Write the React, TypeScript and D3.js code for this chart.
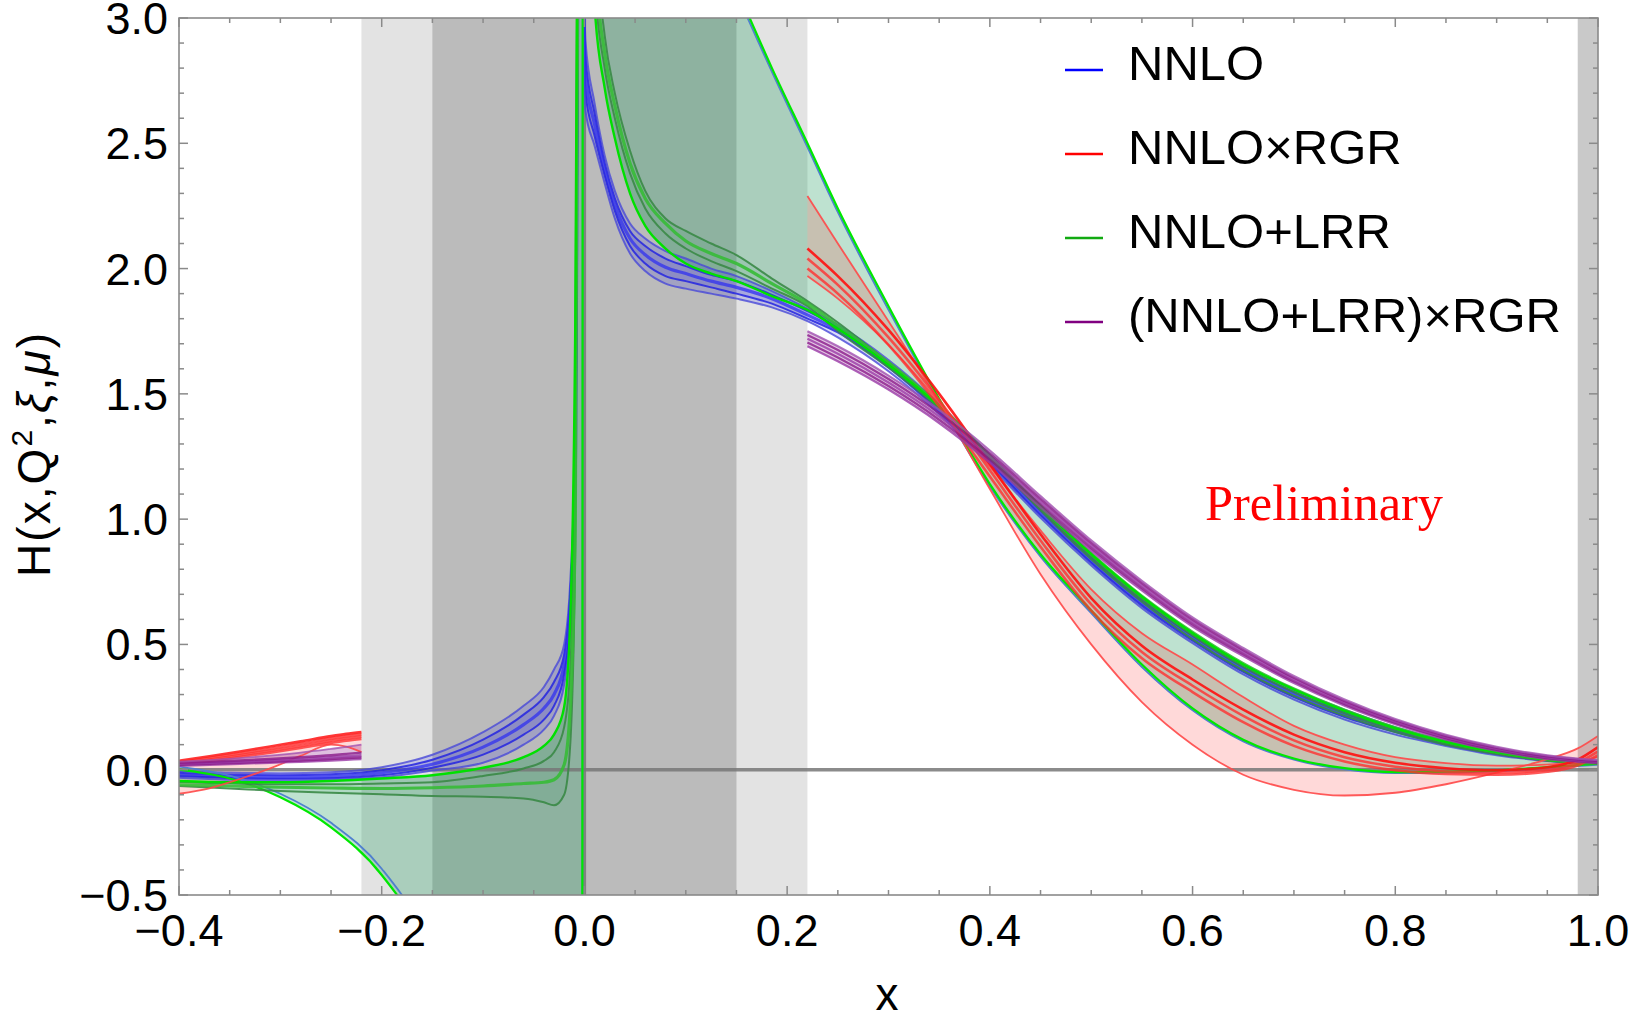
import React from 'react';
import * as d3 from 'd3';

// ---------- axes / ticks ----------
const xDomain = [-0.4, 1.0];
const yDomain = [-0.5, 3.0];
const xTickValues = [-0.4, -0.2, 0.0, 0.2, 0.4, 0.6, 0.8, 1.0];
const xTickLabels = ['−0.4', '−0.2', '0.0', '0.2', '0.4', '0.6', '0.8', '1.0'];
const yTickValues = [-0.5, 0.0, 0.5, 1.0, 1.5, 2.0, 2.5, 3.0];
const yTickLabels = ['−0.5', '0.0', '0.5', '1.0', '1.5', '2.0', '2.5', '3.0'];

// ---------- shaded x-regions ----------
const erblOuter = [-0.22, 0.22];
const erblInner = [-0.15, 0.15];
const endBand = [0.98, 1.0];

// ---------- x grids ----------
const xBG = [
  -0.4, -0.35, -0.3, -0.25, -0.2, -0.15, -0.1, -0.06, -0.04, -0.03, -0.02, -0.014, -0.009, -0.005,
  0.001, 0.01, 0.02, 0.03, 0.045, 0.06, 0.08, 0.1, 0.125, 0.15, 0.185, 0.22,
  0.25, 0.3, 0.35, 0.4, 0.45, 0.5, 0.55, 0.6, 0.65, 0.7, 0.75, 0.8, 0.85, 0.9, 0.95, 1.0,
];
const xLeft = [-0.4, -0.37, -0.34, -0.31, -0.28, -0.25, -0.235, -0.22];
const xRight = [0.22, 0.25, 0.3, 0.35, 0.4, 0.45, 0.5, 0.55, 0.6, 0.65, 0.7, 0.75, 0.8, 0.85, 0.9, 0.95, 0.98, 1.0];

// ---------- NNLO (blue) ----------
const nnloUp = [
  -0.005, -0.012, -0.014, -0.01, 0.01, 0.06, 0.15, 0.255, 0.33, 0.4, 0.5, 0.75, 1.3, 4.0,
  2.91, 2.66, 2.45, 2.31, 2.18, 2.12, 2.07, 2.04, 2.0, 1.97, 1.91, 1.84,
  1.775, 1.635, 1.46, 1.255, 1.045, 0.855, 0.685, 0.545, 0.42, 0.32, 0.24, 0.17, 0.115, 0.075, 0.045, 0.03,
];
const nnloM1 = [
  -0.012, -0.02, -0.022, -0.018, -0.002, 0.04, 0.12, 0.22, 0.29, 0.35, 0.46, 0.7, 1.25, 4.0,
  2.84, 2.62, 2.42, 2.28, 2.15, 2.09, 2.04, 2.01, 1.975, 1.95, 1.895, 1.83,
  1.765, 1.625, 1.45, 1.245, 1.035, 0.845, 0.675, 0.535, 0.41, 0.31, 0.23, 0.165, 0.11, 0.07, 0.042, 0.028,
];
const nnloMid = [
  -0.02, -0.027, -0.03, -0.027, -0.012, 0.022, 0.09, 0.18, 0.245, 0.3, 0.42, 0.65, 1.2, 4.0,
  2.77, 2.575, 2.395, 2.255, 2.12, 2.055, 2.005, 1.98, 1.95, 1.925, 1.88, 1.815,
  1.755, 1.615, 1.44, 1.235, 1.025, 0.835, 0.665, 0.525, 0.4, 0.3, 0.22, 0.16, 0.105, 0.066, 0.04, 0.026,
];
const nnloM3 = [
  -0.026, -0.033, -0.036, -0.034, -0.022, 0.008, 0.06, 0.14, 0.2, 0.255, 0.38, 0.6, 1.15, 4.0,
  2.7, 2.53, 2.37, 2.23, 2.09, 2.02, 1.97, 1.95, 1.925, 1.9, 1.86, 1.8,
  1.745, 1.605, 1.43, 1.225, 1.015, 0.825, 0.655, 0.515, 0.39, 0.29, 0.21, 0.15, 0.1, 0.062, 0.037, 0.024,
];
const nnloLo = [
  -0.032, -0.04, -0.042, -0.04, -0.03, -0.003, 0.028, 0.1, 0.16, 0.215, 0.34, 0.56, 1.1, 4.0,
  2.63, 2.49, 2.34, 2.2, 2.06, 1.99, 1.94, 1.92, 1.9, 1.88, 1.845, 1.79,
  1.725, 1.59, 1.42, 1.215, 1.005, 0.815, 0.645, 0.505, 0.38, 0.28, 0.2, 0.14, 0.095, 0.058, 0.035, 0.022,
];

// ---------- NNLO+LRR (green) ----------
const lrrOuter = [
  0.0, -0.035, -0.11, -0.23, -0.42, -0.75, -1.4, -2.5, -4, -5, -8, -10, -14, -20,
  20, 12, 8, 6.5, 5.3, 4.6, 4.0, 3.6, 3.35, 3.12, 2.8, 2.5,
  2.24, 1.85, 1.48, 1.14, 0.86, 0.635, 0.42, 0.245, 0.12, 0.045, 0.006, -0.01, -0.008, -0.003, 0.01, 0.024,
];
const lrrOuterTwin = [
  0.012, -0.024, -0.096, -0.212, -0.395, -0.72, -1.35, -2.4, -3.9, -5, -8, -10, -14, -20,
  20, 12, 8, 6.5, 5.3, 4.6, 4.0, 3.58, 3.33, 3.1, 2.785, 2.485,
  2.225, 1.835, 1.47, 1.13, 0.85, 0.625, 0.41, 0.237, 0.113, 0.04, 0.001, -0.014, -0.012, -0.007, 0.006, 0.02,
];
const lrrCentral = [
  -0.045, -0.05, -0.05, -0.045, -0.035, -0.022, 0.008, 0.05, 0.095, 0.14, 0.25, 0.6, 1.8, 5,
  7, 3.05, 2.72, 2.52, 2.3, 2.17, 2.08, 2.02, 1.98, 1.95, 1.89, 1.835,
  1.76, 1.615, 1.45, 1.25, 1.05, 0.86, 0.69, 0.545, 0.42, 0.32, 0.235, 0.165, 0.11, 0.07, 0.04, 0.025,
];
const lrrA = [
  -0.05, -0.055, -0.058, -0.058, -0.055, -0.05, -0.025, 0.005, 0.035, 0.07, 0.17, 0.4, 1.3, 5,
  8, 3.15, 2.8, 2.6, 2.38, 2.24, 2.14, 2.08, 2.03, 1.99, 1.92, 1.85,
  1.75, 1.605, 1.44, 1.24, 1.04, 0.85, 0.68, 0.535, 0.41, 0.31, 0.225, 0.158, 0.105, 0.066, 0.038, 0.024,
];
const lrrB = [
  -0.06, -0.065, -0.07, -0.073, -0.075, -0.072, -0.065, -0.055, -0.05, -0.04, 0.02, 0.25, 1.0, 5,
  8, 3.25, 2.86, 2.65, 2.42, 2.28, 2.18, 2.11, 2.06, 2.02, 1.94, 1.86,
  1.772, 1.625, 1.455, 1.252, 1.052, 0.862, 0.692, 0.548, 0.423, 0.322, 0.237, 0.167, 0.112, 0.071, 0.041, 0.025,
];
const lrrC = [
  -0.065, -0.075, -0.085, -0.092, -0.098, -0.105, -0.108, -0.115, -0.13, -0.142, -0.1, 0.1, 0.9, 5,
  8, 3.4, 2.93, 2.7, 2.47, 2.31, 2.2, 2.15, 2.1, 2.054, 1.96, 1.87,
  1.785, 1.625, 1.455, 1.245, 1.035, 0.84, 0.67, 0.52, 0.395, 0.295, 0.215, 0.15, 0.1, 0.063, 0.036, 0.023,
];

// ---------- NNLO×RGR (red) ----------
const rgrLeft1 = [0.036, 0.054, 0.073, 0.093, 0.113, 0.134, 0.143, 0.15];
const rgrLeft2 = [0.03, 0.047, 0.065, 0.084, 0.104, 0.125, 0.134, 0.141];
const rgrLeft3 = [0.025, 0.041, 0.058, 0.076, 0.095, 0.116, 0.125, 0.132];
const rgrLeft4 = [0.02, 0.035, 0.051, 0.068, 0.087, 0.107, 0.116, 0.123];
const rgrLeftOuter = [-0.096, -0.074, -0.037, 0.005, 0.055, 0.1, 0.092, 0.07];

const rgrRight1 = [2.08, 1.97, 1.755, 1.5, 1.22, 0.94, 0.685, 0.495, 0.36, 0.24, 0.14, 0.07, 0.028, 0.006, -0.002, 0.01, 0.04, 0.09];
const rgrRight2 = [2.04, 1.935, 1.725, 1.475, 1.195, 0.915, 0.66, 0.47, 0.335, 0.215, 0.117, 0.05, 0.012, -0.007, -0.012, 0.0, 0.028, 0.073];
const rgrRight3 = [2.0, 1.9, 1.695, 1.45, 1.17, 0.89, 0.635, 0.445, 0.31, 0.19, 0.095, 0.033, -0.002, -0.017, -0.02, -0.008, 0.017, 0.058];
const rgrRight4 = [1.97, 1.88, 1.695, 1.465, 1.21, 0.955, 0.72, 0.545, 0.42, 0.29, 0.175, 0.1, 0.05, 0.026, 0.016, 0.02, 0.032, 0.05];
const rgrRightOuter = [2.29, 2.1, 1.79, 1.47, 1.12, 0.78, 0.5, 0.27, 0.1, -0.02, -0.08, -0.103, -0.092, -0.058, -0.012, 0.042, 0.085, 0.135];

// ---------- (NNLO+LRR)×RGR (purple) ----------
const bothLeft1 = [0.032, 0.038, 0.046, 0.056, 0.068, 0.083, 0.091, 0.1];
const bothLeft2 = [0.028, 0.032, 0.037, 0.043, 0.05, 0.058, 0.063, 0.068];
const bothLeft3 = [0.024, 0.028, 0.032, 0.037, 0.043, 0.05, 0.054, 0.058];
const bothLeft4 = [0.02, 0.024, 0.028, 0.032, 0.037, 0.043, 0.047, 0.05];
const bothLeft5 = [0.016, 0.02, 0.024, 0.028, 0.032, 0.037, 0.04, 0.043];

const bothRight1 = [1.75, 1.69, 1.573, 1.436, 1.274, 1.092, 0.915, 0.754, 0.608, 0.486, 0.374, 0.28, 0.202, 0.139, 0.091, 0.057, 0.044, 0.038];
const bothRight2 = [1.735, 1.675, 1.559, 1.423, 1.262, 1.081, 0.905, 0.7445, 0.599, 0.478, 0.367, 0.274, 0.197, 0.1345, 0.087, 0.0535, 0.041, 0.035];
const bothRight3 = [1.72, 1.66, 1.545, 1.41, 1.25, 1.07, 0.895, 0.735, 0.59, 0.47, 0.36, 0.268, 0.192, 0.13, 0.083, 0.05, 0.038, 0.032];
const bothRight4 = [1.705, 1.645, 1.531, 1.397, 1.238, 1.059, 0.885, 0.7255, 0.581, 0.462, 0.353, 0.262, 0.187, 0.1255, 0.079, 0.0465, 0.035, 0.029];
const bothRight5 = [1.69, 1.63, 1.517, 1.384, 1.226, 1.048, 0.875, 0.716, 0.572, 0.454, 0.346, 0.256, 0.182, 0.121, 0.075, 0.043, 0.032, 0.026];

// ---------- legend ----------
const legendLabels = ['NNLO', 'NNLO×RGR', 'NNLO+LRR', '(NNLO+LRR)×RGR'];
const legendColors = ['#0000ff', '#ff0000', '#11aa11', '#800080'];

const FONT = 'Liberation Sans, Arial, Helvetica, sans-serif';

export default function App() {
  const L = 179, R = 1598, T = 18, B = 895;
  const x = d3.scaleLinear().domain(xDomain).range([L, R]);
  const y = d3.scaleLinear().domain(yDomain).range([B, T]);

  const lineGen = (xs: number[], ys: number[]) =>
    d3.line<number>().x((d) => x(d)).y((_, i) => y(ys[i])).curve(d3.curveMonotoneX)(xs) || '';
  const areaGen = (xs: number[], a: number[], b: number[]) =>
    d3.area<number>().x((d) => x(d)).y0((_, i) => y(a[i])).y1((_, i) => y(b[i])).curve(d3.curveMonotoneX)(xs) || '';

  const xMinor = d3.range(-0.4, 1.0001, 0.05);
  const yMinor = d3.range(-0.5, 3.0001, 0.1);
  const isMajor = (v: number, step: number) => Math.abs(v / step - Math.round(v / step)) < 1e-6;

  const axisColor = '#8a8a8a';

  type Ln = { xs: number[]; ys: number[]; c: string; w: number; o: number };
  const blueLines: Ln[] = [
    { xs: xBG, ys: nnloUp, c: '#4848d8', w: 2, o: 0.8 },
    { xs: xBG, ys: nnloM1, c: '#2424e0', w: 2, o: 0.85 },
    { xs: xBG, ys: nnloMid, c: '#3030f0', w: 3.2, o: 0.75 },
    { xs: xBG, ys: nnloM3, c: '#2424e0', w: 2, o: 0.85 },
    { xs: xBG, ys: nnloLo, c: '#4848d8', w: 2, o: 0.8 },
  ];
  const greenLines: Ln[] = [
    { xs: xBG, ys: lrrOuterTwin, c: '#4f7fcf', w: 1.8, o: 1 },
    { xs: xBG, ys: lrrOuter, c: '#00e800', w: 2.2, o: 1 },
    { xs: xBG, ys: lrrC, c: '#3a8a46', w: 2, o: 0.9 },
    { xs: xBG, ys: lrrA, c: '#3a8a46', w: 2, o: 0.9 },
    { xs: xBG, ys: lrrB, c: '#36bb36', w: 3.2, o: 0.9 },
    { xs: xBG, ys: lrrCentral, c: '#00e000', w: 2.4, o: 1 },
  ];
  const redLines: Ln[] = [
    { xs: xLeft, ys: rgrLeftOuter, c: '#ff4848', w: 1.8, o: 0.9 },
    { xs: xLeft, ys: rgrLeft4, c: '#ff3030', w: 2.6, o: 0.8 },
    { xs: xLeft, ys: rgrLeft3, c: '#ff3030', w: 2.6, o: 0.8 },
    { xs: xLeft, ys: rgrLeft2, c: '#ff3030', w: 2.6, o: 0.8 },
    { xs: xLeft, ys: rgrLeft1, c: '#ff2020', w: 2.6, o: 0.9 },
    { xs: xRight, ys: rgrRightOuter, c: '#ff4848', w: 1.8, o: 0.9 },
    { xs: xRight, ys: rgrRight4, c: '#ff4848', w: 1.8, o: 0.9 },
    { xs: xRight, ys: rgrRight3, c: '#ff3030', w: 2.6, o: 0.8 },
    { xs: xRight, ys: rgrRight2, c: '#ff3030', w: 2.6, o: 0.8 },
    { xs: xRight, ys: rgrRight1, c: '#ff1010', w: 2.6, o: 0.9 },
  ];
  const purpleLines: Ln[] = [
    { xs: xLeft, ys: bothLeft5, c: '#9a3aa6', w: 2.4, o: 0.8 },
    { xs: xLeft, ys: bothLeft4, c: '#8a1a8a', w: 2.4, o: 0.8 },
    { xs: xLeft, ys: bothLeft3, c: '#9a3aa6', w: 2.4, o: 0.8 },
    { xs: xLeft, ys: bothLeft2, c: '#8a1a8a', w: 2.4, o: 0.8 },
    { xs: xLeft, ys: bothLeft1, c: '#a050b0', w: 1.8, o: 0.8 },
    { xs: xRight, ys: bothRight5, c: '#9a3aa6', w: 2.4, o: 0.8 },
    { xs: xRight, ys: bothRight4, c: '#8a1a8a', w: 2.4, o: 0.8 },
    { xs: xRight, ys: bothRight3, c: '#9a3aa6', w: 2.4, o: 0.8 },
    { xs: xRight, ys: bothRight2, c: '#8a1a8a', w: 2.4, o: 0.8 },
    { xs: xRight, ys: bothRight1, c: '#a050b0', w: 2.2, o: 0.8 },
  ];

  const drawLines = (ls: Ln[], key: string) =>
    ls.map((l, i) => (
      <path key={key + i} d={lineGen(l.xs, l.ys)} fill="none" stroke={l.c} strokeWidth={l.w} strokeOpacity={l.o} strokeLinejoin="round" />
    ));

  return (
    <svg width={1631} height={1014} style={{ position: 'absolute', left: 0, top: 0, background: '#fff' }}>
      <defs>
        <clipPath id="plotClip">
          <rect x={L} y={T} width={R - L} height={B - T} />
        </clipPath>
      </defs>
      <rect x={0} y={0} width={1631} height={1014} fill="#fff" />
      {/* shaded regions */}
      <rect x={x(erblOuter[0])} y={T} width={x(erblOuter[1]) - x(erblOuter[0])} height={B - T} fill="#e3e3e3" />
      <rect x={x(erblInner[0])} y={T} width={x(erblInner[1]) - x(erblInner[0])} height={B - T} fill="#bbbbbb" />
      <rect x={x(endBand[0])} y={T} width={x(endBand[1]) - x(endBand[0])} height={B - T} fill="#c9c9c9" />

      <g clipPath="url(#plotClip)">
        {/* fills */}
        <path d={areaGen(xBG, lrrOuter, lrrCentral)} fill="rgb(40,160,100)" fillOpacity={0.3} />
        <path d={areaGen(xBG, lrrCentral, lrrC)} fill="rgb(0,110,50)" fillOpacity={0.08} />
        <path d={areaGen(xBG, nnloLo, nnloUp)} fill="rgb(40,40,230)" fillOpacity={0.17} />
        <path d={areaGen(xBG, nnloM3, nnloM1)} fill="rgb(40,40,200)" fillOpacity={0.17} />
        <path d={areaGen(xLeft, rgrLeftOuter, rgrLeft1)} fill="rgb(255,0,0)" fillOpacity={0.15} />
        <path d={areaGen(xRight, rgrRightOuter, rgrRight4)} fill="rgb(255,0,0)" fillOpacity={0.15} />
        <path d={areaGen(xLeft, bothLeft5, bothLeft1)} fill="rgb(128,0,128)" fillOpacity={0.25} />
        <path d={areaGen(xRight, bothRight5, bothRight1)} fill="rgb(128,0,128)" fillOpacity={0.22} />

        {/* zero axes */}
        <line x1={L} x2={R} y1={y(0)} y2={y(0)} stroke="#777" strokeWidth={3.4} strokeOpacity={0.85} />
        <line x1={x(0)} x2={x(0)} y1={T} y2={B} stroke="#777" strokeWidth={3.4} strokeOpacity={0.85} />

        {drawLines(blueLines, 'b')}
        {drawLines(greenLines, 'g')}
        {drawLines(redLines, 'r')}
        {drawLines(purpleLines, 'p')}
      </g>

      {/* frame */}
      <rect x={L} y={T} width={R - L} height={B - T} fill="none" stroke={axisColor} strokeWidth={1.6} />
      {xMinor.map((v, i) => {
        const len = isMajor(v, 0.2) ? 9 : 5;
        const px = x(v);
        return (
          <g key={'xt' + i}>
            <line x1={px} x2={px} y1={B} y2={B - len} stroke={axisColor} strokeWidth={1.5} />
            <line x1={px} x2={px} y1={T} y2={T + len} stroke={axisColor} strokeWidth={1.5} />
          </g>
        );
      })}
      {yMinor.map((v, i) => {
        const len = isMajor(v, 0.5) ? 9 : 5;
        const py = y(v);
        return (
          <g key={'yt' + i}>
            <line x1={L} x2={L + len} y1={py} y2={py} stroke={axisColor} strokeWidth={1.5} />
            <line x1={R} x2={R - len} y1={py} y2={py} stroke={axisColor} strokeWidth={1.5} />
          </g>
        );
      })}
      {xTickValues.map((v, i) => (
        <text key={'xl' + i} x={x(v)} y={946} textAnchor="middle" fontFamily={FONT} fontSize={45} fill="#000">
          {xTickLabels[i]}
        </text>
      ))}
      {yTickValues.map((v, i) => (
        <text key={'yl' + i} x={168} y={y(v) + 16} textAnchor="end" fontFamily={FONT} fontSize={45} fill="#000">
          {yTickLabels[i]}
        </text>
      ))}

      {/* axis titles */}
      <text x={887} y={1010} textAnchor="middle" fontFamily={FONT} fontSize={46} fill="#000">x</text>
      <text transform="translate(50,455) rotate(-90)" textAnchor="middle" fontFamily={FONT} fontSize={46} fill="#000" textLength={244} lengthAdjust="spacing">
        H(x,Q<tspan fontSize={30} dy={-18}>2</tspan><tspan dy={18}>,</tspan><tspan fontStyle="italic">ξ</tspan>,<tspan fontStyle="italic">μ</tspan>)
      </text>

      {/* legend */}
      {legendLabels.map((lab, i) => (
        <g key={'lg' + i}>
          <line x1={1065} x2={1103} y1={70 + i * 84} y2={70 + i * 84} stroke={legendColors[i]} strokeWidth={2.6} />
          <text x={1128} y={80 + i * 84} fontFamily={FONT} fontSize={49} fill="#000">{lab}</text>
        </g>
      ))}

      <text x={1205} y={520} fontFamily="Liberation Serif, DejaVu Serif, serif" fontSize={50} fill="#ff0000" textLength={238} lengthAdjust="spacingAndGlyphs">
        Preliminary
      </text>
    </svg>
  );
}
